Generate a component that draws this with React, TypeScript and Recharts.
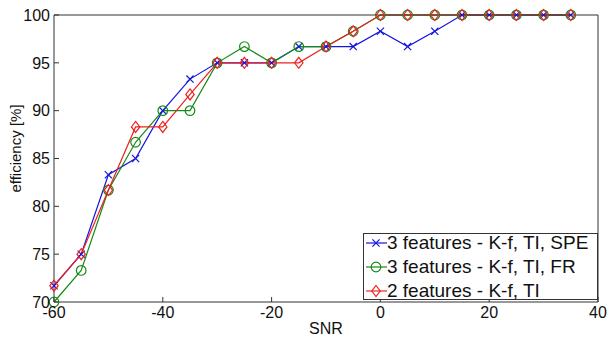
import { CartesianGrid, Legend, Line, LineChart, XAxis, YAxis } from 'recharts';

const snr = [-60, -55, -50, -45, -40, -35, -30, -25, -20, -15, -10, -5, 0, 5, 10, 15, 20, 25, 30, 35];
const speEff = [71.7, 75, 83.3, 85, 90, 93.3, 95, 95, 95, 96.7, 96.7, 96.7, 98.3, 96.7, 98.3, 100, 100, 100, 100, 100];
const frEff = [70, 73.3, 81.7, 86.7, 90, 90, 95, 96.7, 95, 96.7, 96.7, 98.3, 100, 100, 100, 100, 100, 100, 100, 100];
const tiEff = [71.7, 75, 81.7, 88.3, 88.3, 91.7, 95, 95, 95, 95, 96.7, 98.3, 100, 100, 100, 100, 100, 100, 100, 100];

const xTicks = [-60, -40, -20, 0, 20, 40];
const yTicks = [70, 75, 80, 85, 90, 95, 100];

const seriesInfo = [
  { key: 'spe', name: '3 features - K-f, TI, SPE', color: '#1515dd', marker: 'x' },
  { key: 'fr', name: '3 features - K-f, TI, FR', color: '#168a16', marker: 'o' },
  { key: 'ti', name: '2 features - K-f, TI', color: '#ee2020', marker: 'd' },
];

const data = snr.map((s, i) => ({ snr: s, spe: speEff[i], fr: frEff[i], ti: tiEff[i] }));

const axisColor = '#333';
const font = 'Liberation Sans, Arial, sans-serif';

function Marker({ kind, cx, cy, color }: { kind: string; cx: number; cy: number; color: string }) {
  if (kind === 'x') {
    const s = 3.6;
    return (
      <g stroke={color} strokeWidth={1.2}>
        <line x1={cx - s} y1={cy - s} x2={cx + s} y2={cy + s} />
        <line x1={cx - s} y1={cy + s} x2={cx + s} y2={cy - s} />
      </g>
    );
  }
  if (kind === 'o') {
    return <circle cx={cx} cy={cy} r={4.8} fill="none" stroke={color} strokeWidth={1.2} />;
  }
  return (
    <path
      d={`M${cx},${cy - 5.5} L${cx + 4.2},${cy} L${cx},${cy + 5.5} L${cx - 4.2},${cy} Z`}
      fill="none"
      stroke={color}
      strokeWidth={1.2}
    />
  );
}

function LegendBox() {
  return (
    <div
      style={{
        border: `1px solid ${axisColor}`,
        background: '#fff',
        width: 235,
        height: 67,
        fontFamily: font,
        fontSize: 19,
        color: '#111',
        boxSizing: 'border-box',
      }}
    >
      <div style={{ marginTop: -3 }}>
        {seriesInfo.map((s) => (
          <div key={s.key} style={{ display: 'flex', alignItems: 'center', height: 24, whiteSpace: 'nowrap' }}>
            <svg width={23} height={14}>
              <line x1={2} y1={7} x2={23} y2={7} stroke={s.color} strokeWidth={1.2} />
              <Marker kind={s.marker} cx={12} cy={7} color={s.color} />
            </svg>
            <span>{s.name}</span>
          </div>
        ))}
      </div>
    </div>
  );
}

function YLabel({ viewBox }: { viewBox?: { x: number; y: number; width: number; height: number } }) {
  const vb = viewBox ?? { x: 0, y: 0, width: 0, height: 0 };
  const cx = vb.x + 15;
  const cy = vb.y + vb.height / 2 - 10;
  return (
    <text
      x={cx}
      y={cy}
      transform={`rotate(-90 ${cx} ${cy})`}
      textAnchor="middle"
      dominantBaseline="central"
      fill="#111"
      fontSize={15}
      fontFamily={font}
    >
      efficiency [%]
    </text>
  );
}

export default function App() {
  return (
    <div style={{ position: 'absolute', left: 0, top: 0, width: 611, height: 337, background: '#fff' }}>
      <LineChart width={611} height={337} data={data} margin={{ top: 14, right: 12, bottom: 0, left: 0 }}>
        <CartesianGrid stroke="none" />
        <XAxis
          dataKey="snr"
          type="number"
          domain={[-60, 40]}
          ticks={xTicks}
          height={35}
          stroke={axisColor}
          tickSize={-5}
          tickMargin={10}
          tick={{ fill: '#111', fontSize: 16, fontFamily: font }}
          label={{ value: 'SNR', position: 'insideBottom', offset: 3, fill: '#111', fontSize: 16, fontFamily: font }}
        />
        <XAxis
          xAxisId="top"
          orientation="top"
          dataKey="snr"
          type="number"
          domain={[-60, 40]}
          ticks={xTicks}
          height={1}
          stroke={axisColor}
          tickSize={-5}
          tick={false}
        />
        <YAxis
          domain={[70, 100]}
          ticks={yTicks}
          width={54}
          stroke={axisColor}
          tickSize={-5}
          tickMargin={9}
          tick={{ fill: '#111', fontSize: 16, fontFamily: font }}
          label={{ content: (p: any) => <YLabel viewBox={p.viewBox} /> }}
        />
        <YAxis
          yAxisId="right"
          orientation="right"
          domain={[70, 100]}
          ticks={yTicks}
          width={1}
          stroke={axisColor}
          tickSize={-5}
          tick={false}
        />
        {seriesInfo.map((s) => (
          <Line
            key={s.key}
            dataKey={s.key}
            name={s.name}
            type="linear"
            stroke={s.color}
            strokeWidth={1.2}
            isAnimationActive={false}
            dot={(p: { cx?: number; cy?: number; index?: number }) => (
              <Marker key={`${s.key}-${p.index}`} kind={s.marker} cx={p.cx ?? 0} cy={p.cy ?? 0} color={s.color} />
            )}
          />
        ))}
        <Legend
          layout="vertical"
          align="center"
          verticalAlign="middle"
          content={() => <LegendBox />}
          wrapperStyle={{ left: 363, top: 233, width: 235, height: 67 }}
        />
      </LineChart>
    </div>
  );
}
